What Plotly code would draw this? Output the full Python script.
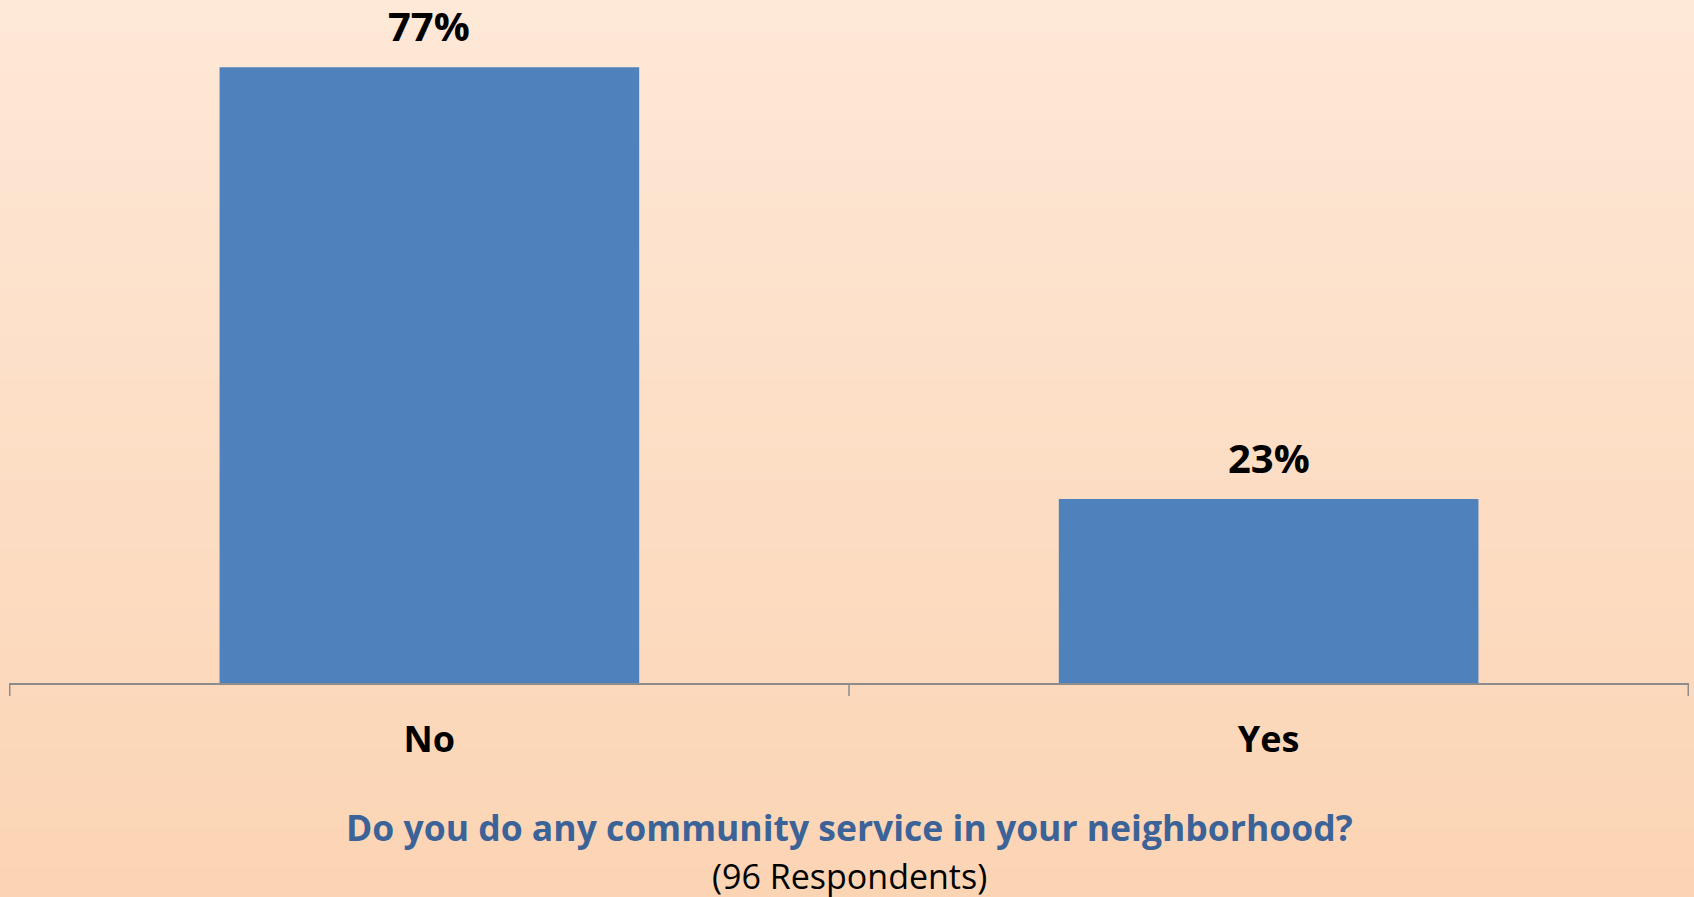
import plotly.graph_objects as go

categories = ["No", "Yes"]
values = [77, 23]
labels = ["77%", "23%"]

title_text = "Do you do any community service in your neighborhood?"
subtitle_text = "(96 Respondents)"

W, H = 1694, 897
B = 214
plot_h = H - B

fig = go.Figure()
fig.add_trace(go.Bar(
    x=categories, y=values,
    marker=dict(color="#4F81BD", line=dict(width=0)),
    width=0.5, hoverinfo="skip",
))

# value labels above bars, anchored to data coordinates
annotations = []
for c, v, lab in zip(categories, values, labels):
    annotations.append(dict(x=c, y=v, xref="x", yref="y", text="<b>%s</b>" % lab,
                            showarrow=False, yanchor="bottom", yshift=12,
                            font=dict(family="Open Sans", size=40, color="#000000")))

# vertical gradient background via thin strips
top = (254, 232, 215)
bot = (251, 212, 180)
n = 90
shapes = []
for i in range(n):
    t = i / (n - 1)
    c = tuple(round(top[k] + (bot[k] - top[k]) * t) for k in range(3))
    shapes.append(dict(type="rect", xref="paper", yref="paper",
                       x0=-0.02, x1=1.02,
                       y1=1 - i / n * (H / plot_h),
                       y0=1 - (i + 1) / n * (H / plot_h) - 0.002,
                       fillcolor="rgb(%d,%d,%d)" % c, line=dict(width=0), layer="below"))

# category boundary ticks
for xb in [-0.5, 0.5, 1.5]:
    shapes.append(dict(type="line", xref="x", yref="paper", x0=xb, x1=xb, y0=0, y1=-13 / plot_h,
                       line=dict(color="#8C8C8C", width=1.5)))

def py(pix):
    return (plot_h - pix) / plot_h

annotations += [
    dict(text="<b>" + title_text + "</b>", x=0.5, y=py(827), xref="paper", yref="paper",
         yanchor="middle", showarrow=False,
         font=dict(family="Open Sans", size=35.5, color="#3B6397")),
    dict(text=subtitle_text, x=0.5, y=py(876), xref="paper", yref="paper",
         yanchor="middle", showarrow=False,
         font=dict(family="Open Sans", size=34, color="#000000")),
]

fig.update_layout(
    width=W, height=H,
    margin=dict(l=9, r=5, t=0, b=B),
    paper_bgcolor="rgb(252,222,197)",
    plot_bgcolor="rgba(0,0,0,0)",
    shapes=shapes,
    annotations=annotations,
    showlegend=False,
    bargap=0.5,
    font=dict(family="Open Sans"),
    xaxis=dict(
        showline=True, linecolor="#8C8C8C", linewidth=1.5,
        ticks="", showgrid=False,
        tickvals=categories, ticktext=["<b>%s</b>" % c for c in categories],
        tickfont=dict(family="Open Sans", size=36, color="#000000"),
        ticklabelstandoff=24,
    ),
    yaxis=dict(range=[0, 85.4], visible=False, showgrid=False),
)

fig.write_html("out.html", config={"displayModeBar": False},
               post_script="document.body.style.margin='0';document.body.style.overflow='hidden';")
